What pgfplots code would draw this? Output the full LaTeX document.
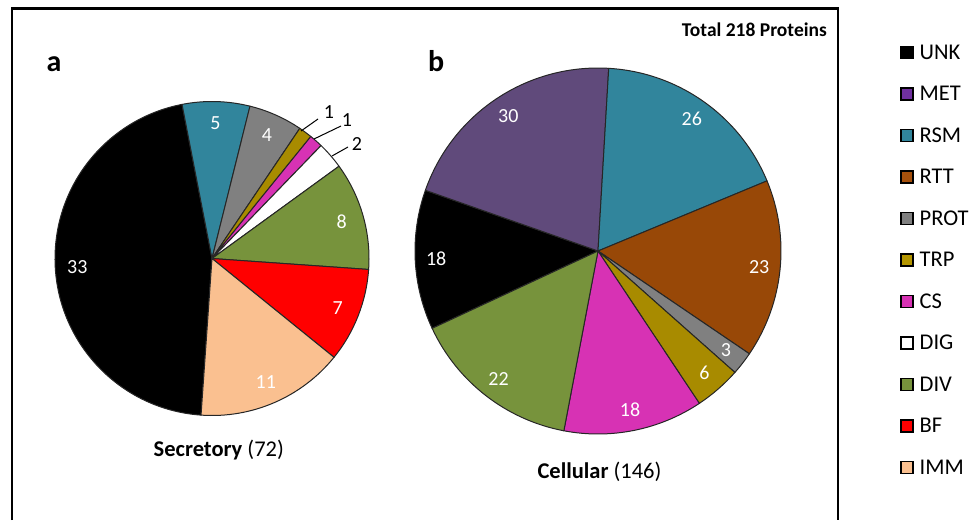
\documentclass[border=0pt]{standalone}
\usepackage{pgfplots}
\pgfplotsset{compat=1.18}
\usepackage{pgfplotstable}
\usepackage{fontspec}
\setmainfont{Carlito}

\definecolor{c0}{HTML}{000000}
\definecolor{c1}{HTML}{604A7B}
\definecolor{c2}{HTML}{31859C}
\definecolor{c3}{HTML}{984807}
\definecolor{c4}{HTML}{808080}
\definecolor{c5}{HTML}{A88B00}
\definecolor{c6}{HTML}{D732B4}
\definecolor{c7}{HTML}{FFFFFF}
\definecolor{c8}{HTML}{77933C}
\definecolor{c9}{HTML}{FF0000}
\definecolor{c10}{HTML}{FAC090}
\definecolor{l0}{HTML}{000000}
\definecolor{l1}{HTML}{7030A0}
\definecolor{l2}{HTML}{31859C}
\definecolor{l3}{HTML}{A5500C}
\definecolor{l4}{HTML}{808080}
\definecolor{l5}{HTML}{B39500}
\definecolor{l6}{HTML}{D732B4}
\definecolor{l7}{HTML}{FFFFFF}
\definecolor{l8}{HTML}{77933C}
\definecolor{l9}{HTML}{FF0000}
\definecolor{l10}{HTML}{FAC090}

\pgfplotstableread{
cat  sec cel
UNK  33  18
MET  0   30
RSM  5   26
RTT  0   23
PROT 4   3
TRP  1   6
CS   1   18
DIG  2   0
DIV  8   22
BF   7   0
IMM  11  0
}\piedata

\tikzset{pielabel/.style={text=white,inner sep=0pt,font=\fontsize{20}{24}\selectfont}}

% #1 column, #2 cx, #3 cy, #4 radius, #5 start angle, #6 label radius, #7 min value labelled inside
\newcommand\drawpie[7]{%
  \pgfmathsetmacro\pietotal{0}%
  \pgfplotsforeachungrouped \i in {0,...,10}{%
    \pgfplotstablegetelem{\i}{#1}\of\piedata
    \pgfmathsetmacro\pietotal{\pietotal+\pgfplotsretval}%
  }%
  \pgfmathsetmacro\curang{#5}%
  \pgfplotsforeachungrouped \i in {0,...,10}{%
    \pgfplotstablegetelem{\i}{#1}\of\piedata
    \let\val\pgfplotsretval
    \ifdim\val pt>0pt
      \pgfmathsetmacro\nextang{\curang-\val*360/\pietotal}%
      \edef\cmd{\noexpand\filldraw[fill=c\i,draw=black!85,line width=1pt,line join=round] (axis cs:#2,#3) -- ++(\curang:#4pt) arc[start angle=\curang,end angle=\nextang,radius=#4pt] -- cycle;}%
      \cmd
      \let\curang\nextang
    \fi
  }%
  \pgfmathsetmacro\curang{#5}%
  \pgfplotsforeachungrouped \i in {0,...,10}{%
    \pgfplotstablegetelem{\i}{#1}\of\piedata
    \let\val\pgfplotsretval
    \ifdim\val pt>0pt
      \pgfmathsetmacro\nextang{\curang-\val*360/\pietotal}%
      \pgfmathsetmacro\midang{(\curang+\nextang)/2}%
      \ifdim\val pt<#7pt\else
        \edef\cmd{\noexpand\path (axis cs:#2,#3) ++(\midang:#6pt) node[pielabel] {\val};}%
        \cmd
      \fi
      \let\curang\nextang
    \fi
  }%
}

\begin{document}
\begin{tikzpicture}
\begin{axis}[
  width=975pt, height=520pt, scale only axis,
  xmin=0, xmax=975, ymin=0, ymax=520, y dir=reverse,
  hide axis, clip=false]
% frame
\draw[line width=2.5pt, line join=miter] (axis cs:12,520) -- (axis cs:12,8.7) -- (axis cs:838,8.7) -- (axis cs:838,520);
% pies
\drawpie{sec}{212}{258.5}{157}{266}{135}{3}
\drawpie{cel}{598}{251}{183}{205}{162}{3}
% outside labels of small slices (pie a)
\draw[line width=1pt] (axis cs:301,131) -- (axis cs:318,119);
\draw[line width=1pt] (axis cs:314,139) -- (axis cs:341,126);
\draw[line width=1pt] (axis cs:332,156) -- (axis cs:348,147);
\node[anchor=base, inner sep=0pt, font=\fontsize{20}{24}\selectfont] at (axis cs:329,118) {1};
\node[anchor=base, inner sep=0pt, font=\fontsize{20}{24}\selectfont] at (axis cs:347,126.7) {1};
\node[anchor=base, inner sep=0pt, font=\fontsize{20}{24}\selectfont] at (axis cs:357,150.7) {2};
% texts
\node[anchor=base west, inner sep=0pt, font=\fontsize{30}{34}\selectfont\bfseries] at (axis cs:46.5,71.7) {a};
\node[anchor=base west, inner sep=0pt, font=\fontsize{30}{34}\selectfont\bfseries] at (axis cs:428,71.7) {b};
\node[anchor=base east, inner sep=0pt, font=\fontsize{19.5}{23}\selectfont\bfseries] at (axis cs:827,36.7) {Total 218 Proteins};
\node[anchor=base, inner sep=0pt, font=\fontsize{22.5}{26}\selectfont] at (axis cs:218.8,456.7) {\textbf{Secretory} (72)};
\node[anchor=base, inner sep=0pt, font=\fontsize{22.5}{26}\selectfont] at (axis cs:599.5,478.3) {\textbf{Cellular} (146)};
% legend
\pgfplotsforeachungrouped \i in {0,...,10}{%
  \pgfplotstablegetelem{\i}{cat}\of\piedata
  \let\nm\pgfplotsretval
  \pgfmathsetmacro\yc{52.5+41.5*\i}%
  \pgfmathsetmacro\ya{\yc-6}%
  \pgfmathsetmacro\yb{\yc+6}%
  \pgfmathsetmacro\yt{\yc+6.8}%
  \edef\cmd{\noexpand\filldraw[fill=l\i,draw=black,line width=1.5pt] (axis cs:900.8,\ya) rectangle (axis cs:912.8,\yb);
    \noexpand\node[anchor=base west,inner sep=0pt,font=\noexpand\fontsize{22.5}{26}\noexpand\selectfont] at (axis cs:919.5,\yt) {\nm};}%
  \cmd
}
\end{axis}
\pgfresetboundingbox
\useasboundingbox (current axis.south west) rectangle (current axis.north east);
\end{tikzpicture}
\end{document}
